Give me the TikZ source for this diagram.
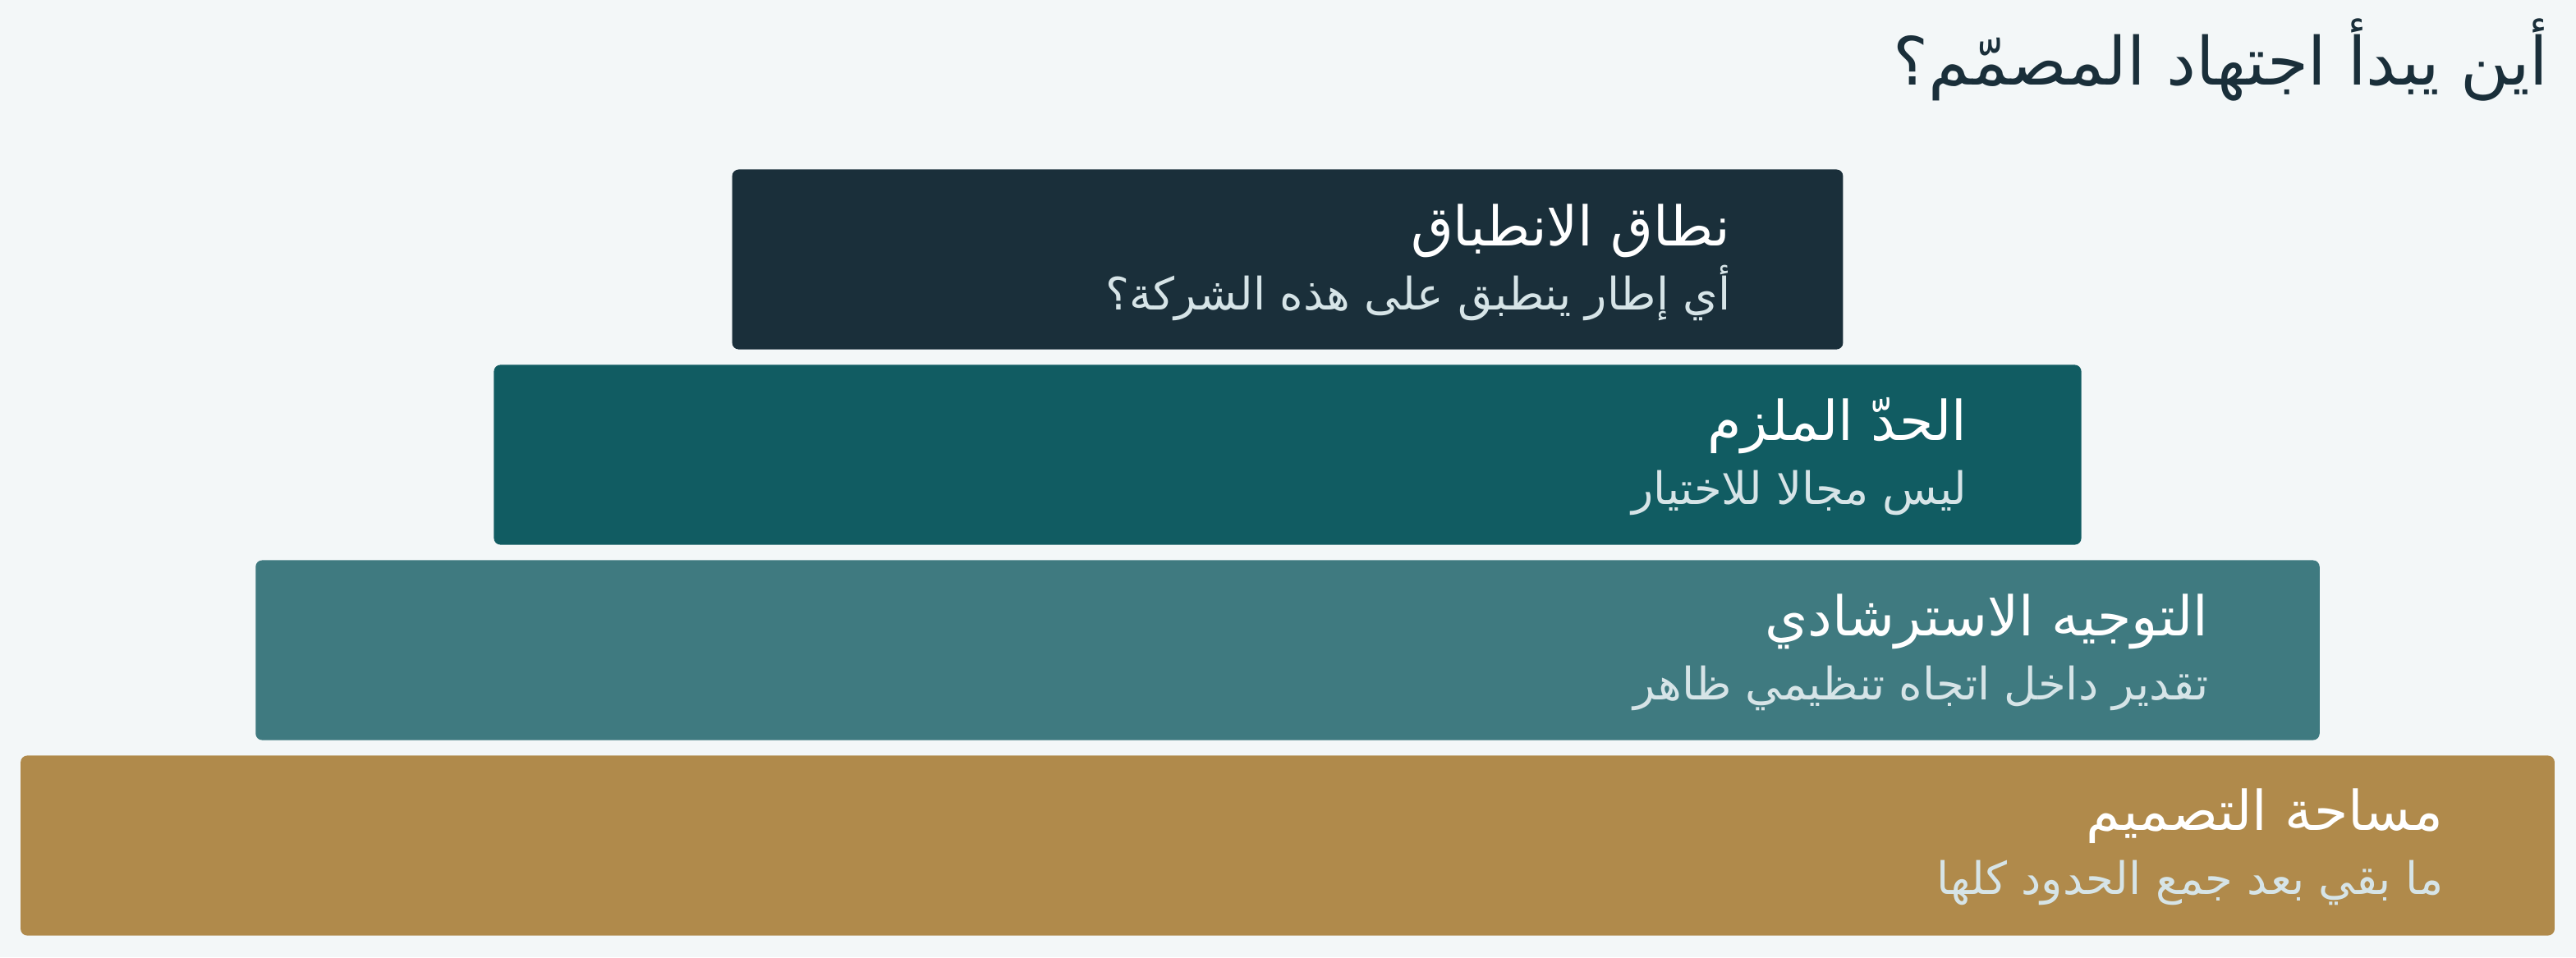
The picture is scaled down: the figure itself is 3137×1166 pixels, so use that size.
\documentclass[tikz,border=0pt]{standalone}
\usepackage{fontspec}
\newfontfamily\arabicfont[Script=Arabic]{DejaVu Sans}
\TeXXeTstate=1
\definecolor{bgc}{HTML}{F3F7F8}
\definecolor{ink}{HTML}{1A2F3A}
\definecolor{tierA}{HTML}{1A2F3A}
\definecolor{tierB}{HTML}{115C62}
\definecolor{tierC}{HTML}{3F7A80}
\definecolor{tierD}{HTML}{B08A4B}
\definecolor{subc}{HTML}{D6E4E7}
\tikzset{
  tier/.style={rounded corners=0.08cm, inner sep=0pt, minimum height=2.19cm},
  tiertitle/.style={anchor=base east, inner sep=0pt, text=white, font=\arabicfont\fontsize{19}{22}\selectfont},
  tiersub/.style={anchor=base east, inner sep=0pt, text=subc, font=\arabicfont\fontsize{15.5}{18}\selectfont},
  headline/.style={anchor=base east, inner sep=0pt, text=ink, font=\arabicfont\fontsize{23}{27}\selectfont}
}
\begin{document}
\begin{tikzpicture}[x=0.01cm,y=-0.01cm]
\fill[bgc] (0,0) rectangle (3137,1166);
\useasboundingbox (0,0) rectangle (3137,1166);
\node[headline] (head) at (3104,103) {\beginR أين يبدأ اجتهاد المصمّم؟\endR};
\node[tier, fill=tierA, minimum width=13.52cm] (t1) at (1568,316) {};
\node[tier, fill=tierB, minimum width=19.32cm] (t2) at (1568,554) {};
\node[tier, fill=tierC, minimum width=25.12cm] (t3) at (1568,792) {};
\node[tier, fill=tierD, minimum width=30.84cm] (t4) at (1568,1030) {};
\node[tiertitle] (t1a) at (2108,299) {\beginR نطاق الانطباق\endR};
\node[tiersub] (t1b) at (2108,377) {\beginR أي إطار ينطبق على هذه الشركة؟\endR};
\node[tiertitle] (t2a) at (2396,536) {\beginR الحدّ الملزم\endR};
\node[tiersub] (t2b) at (2396,614) {\beginR ليس مجالا للاختيار\endR};
\node[tiertitle] (t3a) at (2690,774) {\beginR التوجيه الاسترشادي\endR};
\node[tiersub] (t3b) at (2690,852) {\beginR تقدير داخل اتجاه تنظيمي ظاهر\endR};
\node[tiertitle] (t4a) at (2976,1011) {\beginR مساحة التصميم\endR};
\node[tiersub] (t4b) at (2976,1089) {\beginR ما بقي بعد جمع الحدود كلها\endR};
\end{tikzpicture}
\end{document}
